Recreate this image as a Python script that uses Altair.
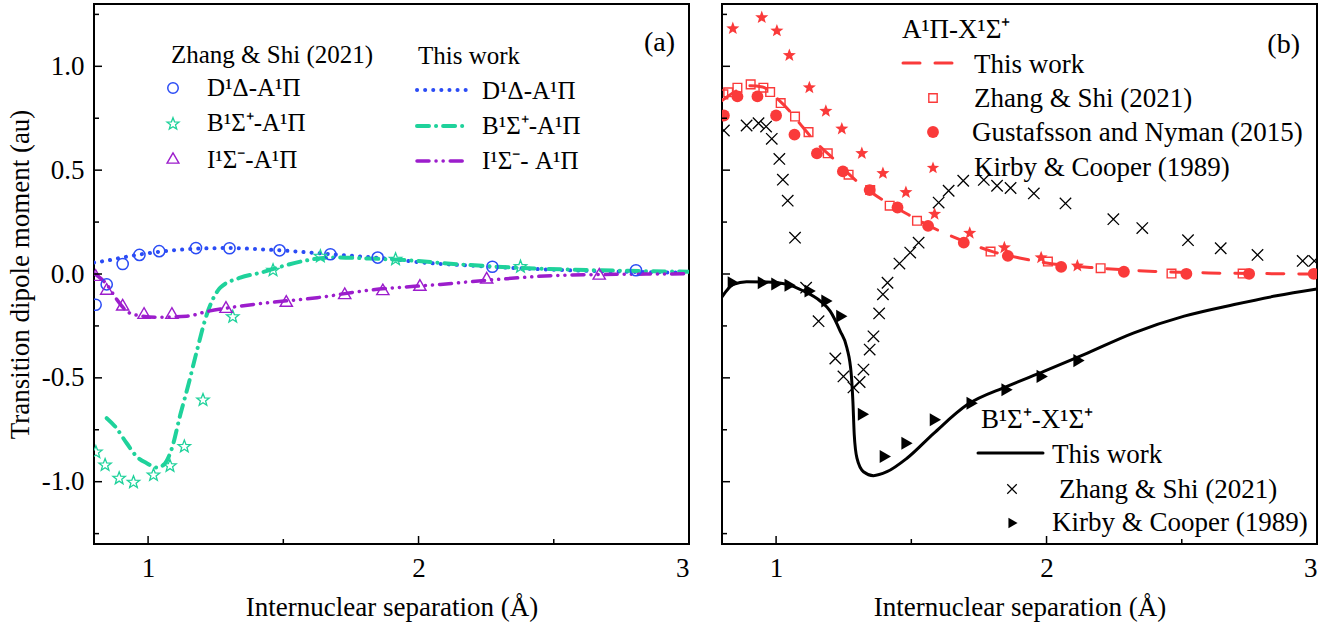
import math
import altair as alt
import pandas as pd

# ---------------- panel (a): transitions into A1Π ----------------
# This work (curves)
da_line_x = [0.8, 0.85, 0.9, 0.95, 1.0, 1.1, 1.2, 1.3, 1.4, 1.5, 1.6, 1.7, 1.8, 1.9, 2.0, 2.2, 2.4, 2.6, 2.8, 3.0]
da_line_y = [0.055, 0.065, 0.078, 0.09, 0.1, 0.115, 0.123, 0.125, 0.12, 0.113, 0.103, 0.093, 0.083, 0.072, 0.057, 0.04, 0.026, 0.016, 0.01, 0.006]

ba_line_x = [0.847, 0.878, 0.921, 0.958, 0.995, 1.032, 1.057, 1.088, 1.119, 1.149, 1.18, 1.217, 1.267, 1.341, 1.415, 1.501, 1.588, 1.685, 1.81, 1.933, 2.143, 2.353, 2.662, 3.0]
ba_line_y = [-0.694, -0.734, -0.815, -0.879, -0.911, -0.932, -0.919, -0.839, -0.678, -0.533, -0.372, -0.195, -0.066, -0.018, 0.006, 0.039, 0.066, 0.08, 0.075, 0.068, 0.047, 0.031, 0.018, 0.011]

ia_line_x = [0.804, 0.847, 0.884, 0.921, 0.946, 1.032, 1.143, 1.223, 1.316, 1.439, 1.625, 1.81, 2.081, 2.291, 2.538, 3.0]
ia_line_y = [0.0, -0.05, -0.122, -0.179, -0.195, -0.208, -0.203, -0.179, -0.159, -0.139, -0.114, -0.079, -0.05, -0.026, -0.006, 0.001]

# Zhang & Shi (2021) (symbols)
da_zs_x = [0.806, 0.847, 0.906, 0.968, 1.041, 1.177, 1.301, 1.486, 1.674, 1.849, 2.273, 2.804]
da_zs_y = [-0.148, -0.05, 0.048, 0.092, 0.11, 0.125, 0.124, 0.114, 0.095, 0.079, 0.035, 0.018]

ba_zs_x = [0.807, 0.841, 0.893, 0.946, 1.02, 1.081, 1.134, 1.203, 1.313, 1.462, 1.637, 1.915, 2.377]
ba_zs_y = [-0.858, -0.92, -0.984, -1.003, -0.968, -0.924, -0.831, -0.607, -0.206, 0.018, 0.085, 0.071, 0.035]

ia_zs_x = [0.806, 0.847, 0.906, 0.985, 1.088, 1.288, 1.511, 1.727, 1.868, 2.005, 2.252, 2.668]
ia_zs_y = [-0.005, -0.072, -0.148, -0.188, -0.188, -0.159, -0.13, -0.093, -0.074, -0.053, -0.018, 0.001]

# ---------------- panel (b): transitions into X1Σ+ ----------------
ax_line_x = [0.8, 0.85, 0.9, 0.95, 1.0, 1.05, 1.1, 1.15, 1.2, 1.25, 1.3, 1.35, 1.4, 1.5, 1.6, 1.7, 1.8, 1.9, 2.0, 2.2, 2.4, 2.6, 2.8, 3.0]
ax_line_y = [0.835, 0.88, 0.906, 0.9, 0.85, 0.785, 0.705, 0.63, 0.57, 0.505, 0.445, 0.395, 0.352, 0.278, 0.21, 0.155, 0.108, 0.077, 0.053, 0.028, 0.012, 0.005, 0.002, 0.0]

ax_zs_x = [0.805, 0.823, 0.857, 0.906, 0.953, 0.978, 1.017, 1.07, 1.12, 1.191, 1.268, 1.348, 1.42, 1.521, 1.793, 2.005, 2.2, 2.462, 2.725]
ax_zs_y = [0.865, 0.875, 0.897, 0.913, 0.897, 0.876, 0.823, 0.758, 0.683, 0.581, 0.478, 0.404, 0.329, 0.256, 0.108, 0.06, 0.028, 0.002, 0.002]

ax_gn_x = [0.807, 0.857, 0.931, 1.0, 1.068, 1.151, 1.247, 1.346, 1.449, 1.562, 1.694, 1.857, 2.054, 2.286, 2.517, 2.749, 2.988]
ax_gn_y = [0.763, 0.855, 0.855, 0.763, 0.671, 0.581, 0.494, 0.404, 0.32, 0.232, 0.151, 0.087, 0.034, 0.011, 0.001, 0.001, 0.001]

ax_kc_x = [0.84, 0.947, 1.003, 1.049, 1.123, 1.184, 1.243, 1.317, 1.395, 1.48, 1.586, 1.716, 1.844, 1.98, 2.114]
ax_kc_y = [1.182, 1.235, 1.171, 1.053, 0.897, 0.784, 0.699, 0.581, 0.485, 0.393, 0.288, 0.197, 0.127, 0.079, 0.039]

bx_line_x = [0.8, 0.842, 0.891, 0.965, 1.04, 1.101, 1.163, 1.2, 1.237, 1.262, 1.278, 1.284, 1.289, 1.299, 1.323, 1.36, 1.41, 1.484, 1.583, 1.706, 1.854, 1.99, 2.138, 2.323, 2.509, 2.694, 2.85, 3.0]
bx_line_y = [-0.11, -0.05, -0.037, -0.039, -0.05, -0.082, -0.13, -0.179, -0.275, -0.356, -0.485, -0.614, -0.774, -0.887, -0.952, -0.971, -0.952, -0.887, -0.767, -0.63, -0.541, -0.469, -0.388, -0.283, -0.203, -0.147, -0.105, -0.072]

bx_zs_x = [0.807, 0.891, 0.935, 0.963, 0.984, 1.012, 1.025, 1.043, 1.07, 1.111, 1.157, 1.219, 1.249, 1.286, 1.309, 1.323, 1.346, 1.36, 1.381, 1.395, 1.412, 1.456, 1.496, 1.527, 1.601, 1.638, 1.692, 1.768, 1.817, 1.867, 1.953, 2.07, 2.247, 2.354, 2.523, 2.644, 2.78, 2.947, 2.99]
bx_zs_y = [0.691, 0.715, 0.726, 0.71, 0.651, 0.554, 0.454, 0.353, 0.175, -0.066, -0.227, -0.407, -0.493, -0.546, -0.52, -0.46, -0.364, -0.3, -0.19, -0.098, -0.042, 0.05, 0.103, 0.151, 0.344, 0.401, 0.449, 0.453, 0.425, 0.414, 0.388, 0.34, 0.264, 0.221, 0.163, 0.124, 0.092, 0.063, 0.063]

bx_kc_x = [0.842, 0.953, 1.003, 1.052, 1.126, 1.188, 1.243, 1.323, 1.404, 1.484, 1.589, 1.725, 1.854, 1.984, 2.12]
bx_kc_y = [-0.042, -0.042, -0.048, -0.054, -0.082, -0.13, -0.203, -0.675, -0.879, -0.815, -0.702, -0.622, -0.557, -0.493, -0.417]

# axis ticks
x_major = [1, 2, 3]
x_minor = [1.5, 2.5]
y_major = [-1.0, -0.5, 0.0, 0.5, 1.0]
y_minor = [-1.25, -0.75, -0.25, 0.25, 0.75, 1.25]

# ---------------- styling ----------------
FONT = "Liberation Serif"
W, H = 595, 540
BLUE = "#2b4cf5"
GREEN = "#1fd29b"
PURPLE = "#9c1dcc"
RED = "#fa3a3a"
BLACK = "#000000"


def star_path(inner=0.42):
    pts = []
    for k in range(10):
        ang = -math.pi / 2 + k * math.pi / 5
        r = 1.0 if k % 2 == 0 else inner
        pts.append(f"{r * math.cos(ang):.3f},{r * math.sin(ang):.3f}")
    return "M" + "L".join(pts) + "Z"


STAR = star_path()
XMARK = "M-1,-1L1,1M1,-1L-1,1"

xs = alt.Scale(domain=[0.8, 3.0], nice=False, zero=False)
ys = alt.Scale(domain=[-1.3, 1.3], nice=False, zero=False)

x_axis = alt.Axis(
    values=x_major, format="d", title="Internuclear separation (Å)",
    ticks=False, domain=False, grid=False,
    labelFont=FONT, labelFontSize=27, labelPadding=11, labelColor=BLACK,
    titleFont=FONT, titleFontSize=27, titleFontWeight="normal",
    titlePadding=13, titleColor=BLACK,
)
y_axis_left = alt.Axis(
    values=y_major, title="Transition dipole moment (au)",
    labelExpr="datum.value < 0 ? '-' + format(abs(datum.value), '.1f') : format(datum.value, '.1f')",
    ticks=False, domain=False, grid=False,
    labelFont=FONT, labelFontSize=27, labelPadding=10, labelColor=BLACK,
    titleFont=FONT, titleFontSize=27, titleFontWeight="normal",
    titlePadding=7, titleColor=BLACK,
)


def frame(xv, yv):
    return pd.DataFrame({"x": xv, "y": yv})


def enc_xy(y_axis):
    return dict(
        x=alt.X("x:Q", scale=xs, axis=x_axis),
        y=alt.Y("y:Q", scale=ys, axis=y_axis),
    )


def curve(xv, yv, color, width, dash, y_axis):
    kw = dict(color=color, strokeWidth=width, strokeCap="round",
              interpolate="monotone", clip=True)
    if dash:
        kw["strokeDash"] = dash
    return alt.Chart(frame(xv, yv)).mark_line(**kw).encode(**enc_xy(y_axis))


def symbols(xv, yv, shape, color, size, filled, y_axis, sw=1.4):
    return alt.Chart(frame(xv, yv)).mark_point(
        shape=shape, color=color, size=size, filled=filled, opacity=1,
        strokeWidth=sw, clip=True,
    ).encode(**enc_xy(y_axis))


def ticks(y_axis):
    out = []
    for vals, ln in ((x_major, 8), (x_minor, 5)):
        out.append(alt.Chart(pd.DataFrame({"x": vals})).mark_rule(
            color=BLACK, strokeWidth=1.5).encode(
            x=alt.X("x:Q", scale=xs, axis=x_axis),
            y=alt.value(H), y2=alt.value(H - ln)))
    for vals, ln in ((y_major, 8), (y_minor, 5)):
        out.append(alt.Chart(pd.DataFrame({"y": vals})).mark_rule(
            color=BLACK, strokeWidth=1.5).encode(
            y=alt.Y("y:Q", scale=ys, axis=y_axis),
            x=alt.value(0), x2=alt.value(ln)))
    return out


ONE = pd.DataFrame({"k": [0]})


def label(text, x, y, size=25, align="left"):
    return alt.Chart(pd.DataFrame({"t": [text]})).mark_text(
        font=FONT, fontSize=size, color=BLACK, align=align, baseline="alphabetic",
    ).encode(text="t:N", x=alt.value(x), y=alt.value(y))


def key_line(x0, x1, y, color, width, dash):
    kw = dict(color=color, strokeWidth=width, strokeCap="round")
    if dash:
        kw["strokeDash"] = dash
    return alt.Chart(ONE).mark_rule(**kw).encode(
        x=alt.value(x0), x2=alt.value(x1), y=alt.value(y))


def key_symbol(x, y, shape, color, size, filled, sw=1.4):
    return alt.Chart(ONE).mark_point(
        shape=shape, color=color, size=size, filled=filled, opacity=1, strokeWidth=sw,
    ).encode(x=alt.value(x), y=alt.value(y))


DOT = [0.1, 8]
DASHDOT = [12, 7, 0.1, 7]
DASHDOTDOT = [12, 7, 0.1, 7, 0.1, 7]
DASH = [17, 15]

# ---------------- panel (a) ----------------
ya = y_axis_left
left_layers = [
    curve(da_line_x, da_line_y, BLUE, 4, DOT, ya),
    curve(ba_line_x, ba_line_y, GREEN, 4, DASHDOT, ya),
    curve(ia_line_x, ia_line_y, PURPLE, 3.5, DASHDOTDOT, ya),
    symbols(da_zs_x, da_zs_y, "circle", BLUE, 125, False, ya, 1.5),
    symbols(ba_zs_x, ba_zs_y, STAR, GREEN, 170, False, ya, 1.3),
    symbols(ia_zs_x, ia_zs_y, "triangle-up", PURPLE, 150, False, ya, 1.4),
    *ticks(ya),
    # legend: Zhang & Shi
    label("Zhang & Shi (2021)", 77, 59),
    key_symbol(79, 84, "circle", BLUE, 110, False, 1.5),
    label("D¹Δ-A¹Π", 113, 92),
    key_symbol(79, 120, STAR, GREEN, 160, False, 1.3),
    label("B¹Σ⁺-A¹Π", 113, 127),
    key_symbol(79, 154, "triangle-up", PURPLE, 140, False, 1.4),
    label("I¹Σ⁻-A¹Π", 113, 164),
    # legend: this work
    label("This work", 324, 60),
    key_line(323, 374, 86, BLUE, 4, DOT),
    label("D¹Δ-A¹Π", 388, 95),
    key_line(323, 374, 122, GREEN, 4, DASHDOT),
    label("B¹Σ⁺-A¹Π", 388, 130),
    key_line(323, 374, 157, PURPLE, 3.5, DASHDOTDOT),
    label("I¹Σ⁻- A¹Π", 388, 165),
    label("(a)", 581, 47, size=28, align="right"),
]
left = alt.layer(*left_layers).properties(width=W, height=H)

# ---------------- panel (b) ----------------
yb = None
right_layers = [
    curve(ax_line_x, ax_line_y, RED, 3, DASH, yb),
    curve(bx_line_x, bx_line_y, BLACK, 3, None, yb),
    symbols(ax_zs_x, ax_zs_y, "square", RED, 75, False, yb, 1.4),
    symbols(ax_gn_x, ax_gn_y, "circle", RED, 140, True, yb),
    symbols(ax_kc_x, ax_kc_y, STAR, RED, 190, True, yb),
    symbols(bx_zs_x, bx_zs_y, XMARK, BLACK, 130, False, yb, 1.3),
    symbols(bx_kc_x, bx_kc_y, "triangle-right", BLACK, 170, True, yb),
    *ticks(yb),
    # legend: A-X
    label("A¹Π-X¹Σ⁺", 180, 34, size=27),
    key_line(181, 231, 59, RED, 3, DASH),
    label("This work", 252, 69, size=27),
    key_symbol(211, 94, "square", RED, 70, False, 1.4),
    label("Zhang & Shi (2021)", 252, 103, size=27),
    key_symbol(211, 128, "circle", RED, 140, True),
    label("Gustafsson and Nyman (2015)", 250, 137, size=27),
    key_symbol(211, 164, STAR, RED, 170, True),
    label("Kirby & Cooper (1989)", 252, 172, size=27),
    # legend: B-X
    label("B¹Σ⁺-X¹Σ⁺", 259, 424, size=27),
    key_line(256, 321, 449, BLACK, 3, None),
    label("This work", 330, 459, size=27),
    key_symbol(290, 485, XMARK, BLACK, 90, False, 1.2),
    label("Zhang & Shi (2021)", 337, 494, size=27),
    key_symbol(291, 519, "triangle-right", BLACK, 110, True),
    label("Kirby & Cooper (1989)", 330, 527, size=27),
    label("(b)", 578, 49, size=28, align="right"),
]
right = alt.layer(*right_layers).properties(width=W, height=H)

chart = alt.hconcat(left, right, spacing=29).properties(
    padding={"left": 5, "top": 3, "right": 5, "bottom": 5},
    background="white",
).configure_view(stroke=BLACK, strokeWidth=2)

chart.save("out.html", embed_options={"renderer": "svg", "actions": False})
